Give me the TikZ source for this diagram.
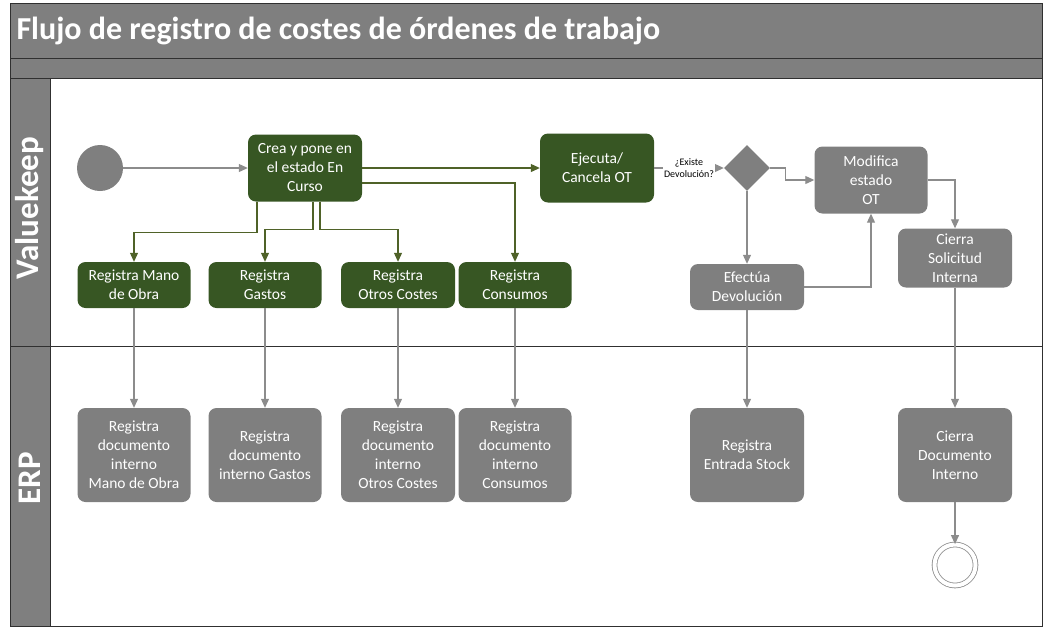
\documentclass[tikz,border=0pt]{standalone}
\usepackage{fontspec}
\setmainfont{Carlito}
\usetikzlibrary{arrows.meta,shapes.geometric,positioning}
\definecolor{vkgreen}{HTML}{375623}
\definecolor{vkgray}{HTML}{7F7F7F}
\definecolor{lnkgray}{HTML}{8C8C8C}
\definecolor{lnkgreen}{HTML}{4F6228}
\definecolor{framecol}{HTML}{303030}

\begin{document}
\begin{tikzpicture}[x=1pt, y=-1pt, >={Triangle[length=9pt,width=8pt]},
        greenbox/.style={rectangle, rounded corners=8pt, fill=vkgreen, text=white, align=center, font=\fontsize{15.5}{19}\selectfont, minimum width=113pt, inner sep=2pt},
        graybox/.style={greenbox, fill=vkgray},
        lanetxt/.style={rotate=90, text=white, font=\bfseries\fontsize{33}{38}\selectfont},
        lnk/.style={draw=lnkgray, line width=1.1pt, ->},
        glnk/.style={draw=lnkgreen, line width=1.1pt, ->}]
        \useasboundingbox (0,0) rectangle (1046,633);
        \fill[vkgray] (10,3) rectangle (1042,78);
        \fill[vkgray] (10,78) rectangle (50,626);
        \draw[framecol, line width=1pt] (10,3) rectangle (1042,626);
        \draw[framecol, line width=1pt] (10,58) -- (1042,58);
        \draw[framecol, line width=1pt] (10,78) -- (1042,78);
        \draw[framecol, line width=1pt] (50,78) -- (50,626);
        \draw[framecol, line width=1pt] (10,346) -- (1042,346);
        \node[anchor=west, text=white, font=\bfseries\fontsize{32}{38}\selectfont] (title) at (13,31) {Flujo de registro de costes de órdenes de trabajo};
        \node[lanetxt] (lanevk) at (30,208) {Valuekeep};
        \node[lanetxt] (laneerp) at (30,478) {ERP};

        \node[circle, fill=vkgray, minimum size=46pt] (inicio) at (100,168) {};
        \node[greenbox, minimum width=114pt, minimum height=67pt] (crea) at (305,168) {Crea y pone en\\el estado En\\Curso};
        \node[greenbox, minimum width=114pt, minimum height=69pt] (ejecuta) at (597,168) {Ejecuta/\\Cancela OT};
        \node[diamond, fill=vkgray, minimum width=46pt, minimum height=46pt, inner sep=0pt] (dec) at (747,168) {};
        \node[graybox, minimum height=67pt] (modifica) at (871,180) {Modifica\\estado\\OT};
        \node[graybox, minimum width=114pt, minimum height=59pt] (cierrasol) at (955,258) {Cierra\\Solicitud\\Interna};
        \node[graybox, minimum width=114pt, minimum height=46pt] (efectua) at (747,287) {Efectúa\\Devolución};

        \node[greenbox, minimum height=46pt] (regmano) at (134,285) {Registra Mano\\de Obra};
        \node[greenbox, minimum height=46pt] (reggastos) at (265,285) {Registra\\Gastos};
        \node[greenbox, minimum width=114pt, minimum height=46pt] (regotros) at (398,285) {Registra\\Otros Costes};
        \node[greenbox, minimum height=46pt] (regcons) at (515,285) {Registra\\Consumos};

        \node[graybox, minimum height=94pt] (docmano) at (134,455) {Registra\\documento\\interno\\Mano de Obra};
        \node[graybox, minimum height=94pt] (docgastos) at (265,455) {Registra\\documento\\interno Gastos};
        \node[graybox, minimum width=114pt, minimum height=94pt] (docotros) at (398,455) {Registra\\documento\\interno\\Otros Costes};
        \node[graybox, minimum height=94pt] (doccons) at (515,455) {Registra\\documento\\interno\\Consumos};
        \node[graybox, minimum width=114pt, minimum height=94pt] (stock) at (747,455) {Registra\\Entrada Stock};
        \node[graybox, minimum width=114pt, minimum height=94pt] (cierradoc) at (955,455) {Cierra\\Documento\\Interno};
        \node[circle, draw=lnkgray, line width=0.8pt, double=white, double distance=4pt, minimum size=41pt] (fin) at (955,565) {};

        \draw[lnk] (inicio) -- (crea);
        \draw[glnk] (crea) -- (ejecuta);
        \draw[glnk] ([yshift=-15pt]crea.east) -| (regcons.north);
        \draw[glnk] ([xshift=-48pt]crea.south) -- ++(0,31) -| (regmano.north);
        \draw[glnk] ([xshift=8pt]crea.south) -- ++(0,28) -| (reggastos.north);
        \draw[glnk] ([xshift=15pt]crea.south) -- ++(0,28) -| (regotros.north);
        \draw[lnk] (ejecuta) -- node[fill=white, inner sep=1pt, align=center, font=\fontsize{10}{12}\selectfont] (qdev) {¿Existe\\Devolución?} (dec);
        \draw[lnk] (dec.east) -- ++(15,0) |- (modifica.west);
        \draw[lnk] (dec.south) -- (efectua.north);
        \draw[lnk] (efectua.east) -| (modifica.south);
        \draw[lnk] (modifica.east) -| (cierrasol.north);

        \draw[lnk] (regmano) -- (docmano);
        \draw[lnk] (reggastos) -- (docgastos);
        \draw[lnk] (regotros) -- (docotros);
        \draw[lnk] (regcons) -- (doccons);
        \draw[lnk] (efectua) -- (stock);
        \draw[lnk] (cierrasol) -- (cierradoc);
        \draw[lnk] (cierradoc) -- (fin);
\end{tikzpicture}
\end{document}
